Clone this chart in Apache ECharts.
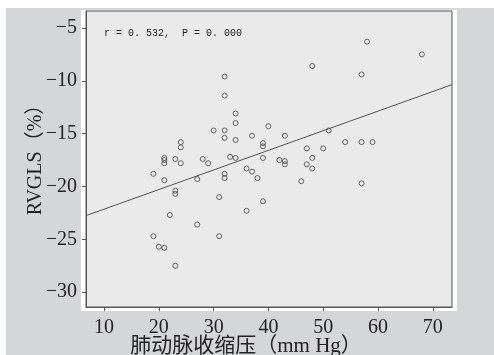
<!DOCTYPE html>
<html>
<head>
<meta charset="utf-8">
<script src="https://cdn.jsdelivr.net/npm/echarts@6/dist/echarts.min.js"></script>
<style>
  html, body { margin: 0; padding: 0; background: #fff; }
  #chart { width: 494px; height: 355px; }
</style>
</head>
<body>
<div id="chart"></div>
<script>
// 肺动脉收缩压 (mm Hg) vs RVGLS (%)
const pasp = [
  19, 21, 23, 23, 27, 32, 32, 31, 22, 27, 36, 19, 20, 21, 31, 23, 39, 46, 57, 38, 37,
  32, 32, 34, 34, 30, 32, 32, 34, 24, 24, 21, 21, 21, 23, 24, 28, 29, 33, 34, 36,
  37, 40, 39, 39, 43, 51, 54, 47, 50, 39, 42, 43, 43, 48, 47, 48, 58, 68, 57, 57, 59, 48
]
const rvgls = [
  -18.8, -19.4, -20.4, -20.7, -19.3, -18.8, -19.2, -21.0, -22.7, -23.6, -22.3, -24.7, -25.7, -25.8, -24.7, -27.5, -21.4, -19.5, -19.7, -19.2, -18.6,
  -9.6, -11.4, -13.1, -14.0, -14.7, -14.7, -15.4, -15.6, -15.8, -16.3, -17.3, -17.5, -17.8, -17.4, -17.8, -17.4, -17.8, -17.2, -17.3, -18.3,
  -15.2, -14.3, -15.9, -16.2, -15.2, -14.7, -15.8, -16.4, -16.4, -17.3, -17.5, -17.6, -17.9, -17.3, -17.9, -18.3, -6.3, -7.5, -9.4, -15.8, -15.8, -8.6
]
// 拟合直线
const fitSlope = 0.1855
const fitIntercept = -24.0
const xRange = [6.7, 73.5]
const yRange = [-31.4, -3.4]
const xTicks = [10, 20, 30, 40, 50, 60, 70]
const yTicks = [-30, -25, -20, -15, -10, -5]
const statText = 'r = 0. 532,  P = 0. 000'

const points = pasp.map((x, i) => [x, rvgls[i]])
const fitLine = xRange.map(x => [x, fitIntercept + fitSlope * x])

const serif = '"Liberation Serif", "Noto Sans CJK SC", serif'
const minus = v => String(v).replace('-', '\u2212')

const chart = echarts.init(document.getElementById('chart'))
chart.setOption({
  animation: false,
  backgroundColor: '#fff',
  graphic: [
    { type: 'rect', z: -10, shape: { x: 6, y: 8, width: 488, height: 347 }, style: { fill: '#d5d6d8' } },
    { type: 'rect', z: -9, shape: { x: 81, y: 10, width: 376, height: 301 }, style: { fill: '#fff' } },
    {
      type: 'text', left: 104, top: 28, z: 10,
      style: { text: statText, font: '10px "Liberation Mono", monospace', fill: '#222' }
    }
  ],
  grid: {
    left: 86, top: 11, right: 42, bottom: 48,
    outerBoundsMode: 'none',
    show: true, backgroundColor: '#eaeaea', borderColor: '#555', borderWidth: 1
  },
  xAxis: {
    type: 'value',
    min: xRange[0], max: xRange[1],
    name: '肺动脉收缩压（mm Hg）',
    nameLocation: 'middle',
    nameGap: 29,
    nameMoveOverlap: false,
    nameTextStyle: { fontFamily: serif, fontSize: 21, color: '#222', padding: [0, 46, 0, 0] },
    axisLine: { show: true, lineStyle: { color: '#555' } },
    axisTick: { show: true, length: 4, customValues: xTicks, lineStyle: { color: '#555' } },
    axisLabel: { customValues: xTicks, fontFamily: serif, fontSize: 20, color: '#222', margin: 11 },
    splitLine: { show: false }
  },
  yAxis: {
    type: 'value',
    min: yRange[0], max: yRange[1],
    name: 'RVGLS（%）',
    nameLocation: 'middle',
    nameGap: 40,
    nameMoveOverlap: false,
    nameTextStyle: { fontFamily: serif, fontSize: 20, color: '#222', padding: [0, 0, 0, 8] },
    axisLine: { show: true, lineStyle: { color: '#555' } },
    axisTick: { show: true, length: 4, customValues: yTicks, lineStyle: { color: '#555' } },
    axisLabel: { customValues: yTicks, fontFamily: serif, fontSize: 20, color: '#222', margin: 9, formatter: minus },
    splitLine: { show: false }
  },
  series: [
    {
      type: 'scatter',
      data: points,
      symbol: 'circle',
      symbolSize: 5,
      itemStyle: { color: 'transparent', borderColor: '#444', borderWidth: 1 }
    },
    {
      type: 'line',
      data: fitLine,
      showSymbol: false,
      silent: true,
      lineStyle: { color: '#555', width: 1 }
    }
  ]
})
</script>
</body>
</html>
